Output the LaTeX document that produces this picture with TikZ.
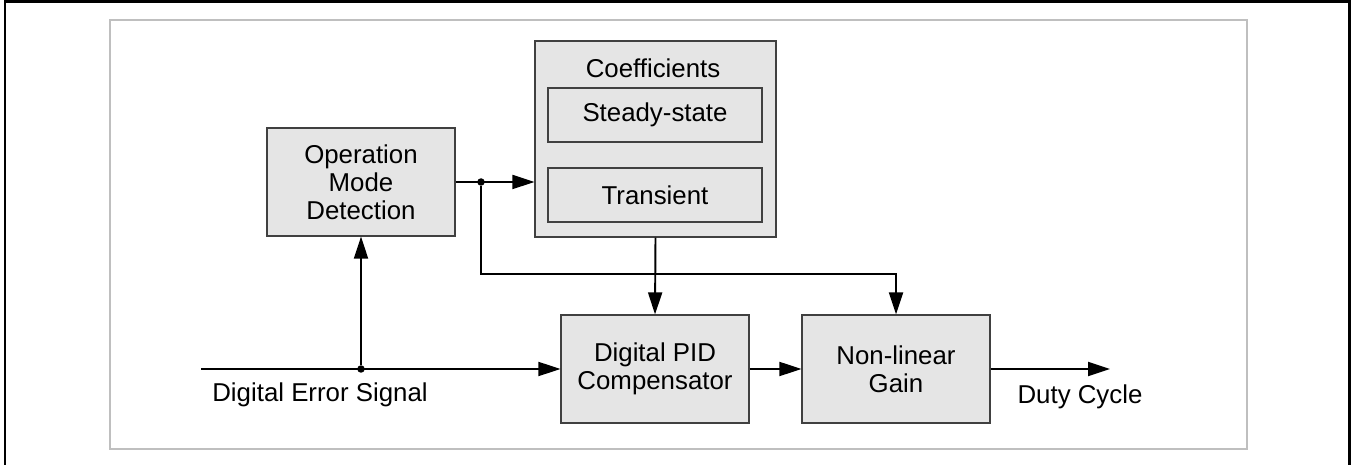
\documentclass[tikz,border=0pt]{standalone}
\usepackage{fontspec}
\setmainfont{Liberation Sans}
\usetikzlibrary{arrows.meta, positioning}

\tikzset{
  block/.style={draw=black!75, fill=black!10, line width=0.7pt, align=center,
    inner sep=0pt, minimum width=3.76cm, minimum height=2.16cm},
  subblock/.style={draw=black!75, fill=black!10, line width=0.7pt,
    inner sep=0pt, minimum width=4.28cm, minimum height=1.08cm},
  wire/.style={line width=1.1pt, -{Triangle[length=0.44cm,width=0.28cm]}},
  plain wire/.style={line width=1.1pt},
  junction/.style={circle, fill=black, inner sep=0pt, minimum size=0.15cm},
  label text/.style={inner sep=0pt}
}

\begin{document}
\begin{tikzpicture}[x=0.02cm, y=-0.02cm,
  every node/.append style={font=\fontsize{14.7}{16}\selectfont}]
\useasboundingbox (0,0) rectangle (1351,465);

% frame
\draw[line width=1.7pt] (5,470) -- (5,2) -- (1349,2) -- (1349,470);
\draw[black!25, line width=0.6pt] (110,20) rectangle (1247,449);

% blocks
\node[block] (omd) at (361,182) {Operation\\Mode\\Detection};
\node[block, minimum width=4.82cm, minimum height=3.92cm] (coef) at (655.5,139) {};
\node[label text] (coeftitle) at (653,68) {Coefficients};
\node[subblock] (steady) at (655,115) {Steady-state};
\node[subblock] (trans) at (655,195) {Transient};
\node[block] (pid) at (655,369) {Digital PID\\Compensator};
\node[block] (gain) at (896,369) {Non-linear\\Gain};

% signals
\coordinate (in) at (201,369);
\coordinate (out) at (1110,369);
\node[junction] (j1) at (361,369) {};
\node[junction] (j2) at (481,182) {};
\node[label text] (inlabel) at (320,395) {Digital Error Signal};
\node[label text] (outlabel) at (1080,397) {Duty Cycle};

% connections
\draw[wire] (in) -- (pid.west);
\draw[wire] (j1) -- (omd.south);
\draw[wire] (omd.east) -- (omd.east -| coef.west);
\draw[wire] (j2) -- ++(0,92) -| (gain.north);
\draw[wire] (coef.south) -- (pid.north);
\draw[wire] (pid.east) -- (gain.west);
\draw[wire] (gain.east) -- (out);

\end{tikzpicture}
\end{document}
